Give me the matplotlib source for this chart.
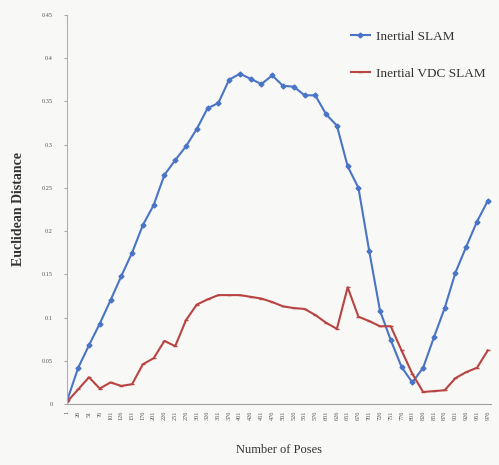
import matplotlib
matplotlib.use('Agg')
import matplotlib.pyplot as plt

# data
poses = [1 + 25 * i for i in range(40)]
inertial_slam = [0.005, 0.042, 0.068, 0.093, 0.120, 0.148, 0.175, 0.207, 0.230, 0.265,
                 0.282, 0.298, 0.318, 0.342, 0.348, 0.375, 0.382, 0.376, 0.370, 0.380,
                 0.368, 0.367, 0.357, 0.357, 0.335, 0.322, 0.275, 0.250, 0.177, 0.108,
                 0.074, 0.043, 0.025, 0.042, 0.077, 0.111, 0.152, 0.182, 0.211, 0.235]
inertial_vdc_slam = [0.003, 0.017, 0.031, 0.018, 0.025, 0.021, 0.023, 0.046, 0.053, 0.073,
                     0.067, 0.097, 0.115, 0.121, 0.126, 0.126, 0.126, 0.124, 0.122, 0.118,
                     0.113, 0.111, 0.110, 0.103, 0.094, 0.087, 0.135, 0.101, 0.096, 0.090,
                     0.090, 0.062, 0.035, 0.014, 0.015, 0.016, 0.030, 0.037, 0.042, 0.062]
y_ticks = [0, 0.05, 0.1, 0.15, 0.2, 0.25, 0.3, 0.35, 0.4, 0.45]
y_tick_labels = ['0', '0.05', '0.1', '0.15', '0.2', '0.25', '0.3', '0.35', '0.4', '0.45']

plt.rcParams['font.family'] = ['Liberation Serif', 'DejaVu Serif']

bg = '#f8f8f6'
fig = plt.figure(figsize=(4.99, 4.65), dpi=100, facecolor=bg)
ax = fig.add_axes([0.134, 0.131, 0.85, 0.837], facecolor=bg)

x = list(range(len(poses)))
ax.plot(x, inertial_slam, color='#4a74c6', lw=1.5, marker='D', ms=2.5,
        label='Inertial SLAM')
ax.plot(x, inertial_vdc_slam, color='#b84442', lw=1.5, marker='_', ms=3,
        label='Inertial VDC SLAM')

ax.set_xlim(-0.05, len(poses) - 0.7)
ax.set_ylim(0, 0.45)
ax.set_yticks(y_ticks)
ax.set_yticklabels(y_tick_labels, fontsize=4.5, color='#555555')
ax.set_xticks(x)
ax.set_xticklabels([str(p) for p in poses], rotation=90, fontsize=4.5, color='#555555')
ax.tick_params(axis='y', length=2, color='#aaaaaa', pad=8)
ax.tick_params(axis='x', length=0, pad=5)

for side in ['top', 'right']:
    ax.spines[side].set_visible(False)
ax.spines['left'].set_color('#b0b0b0')
ax.spines['bottom'].set_color('#a0a0a0')

ax.set_ylabel('Euclidean Distance', fontsize=10, fontweight='bold', color='#333333', labelpad=12)
ax.set_xlabel('Number of Poses', fontsize=9, color='#333333', labelpad=17)

fig.legend(loc='upper left', bbox_to_anchor=(0.68, 0.96), frameon=False,
           fontsize=9.5, labelspacing=1.9, handlelength=1.4, handletextpad=0.5,
           labelcolor='#333333')

fig.savefig('out.png', dpi=100, facecolor=bg)
